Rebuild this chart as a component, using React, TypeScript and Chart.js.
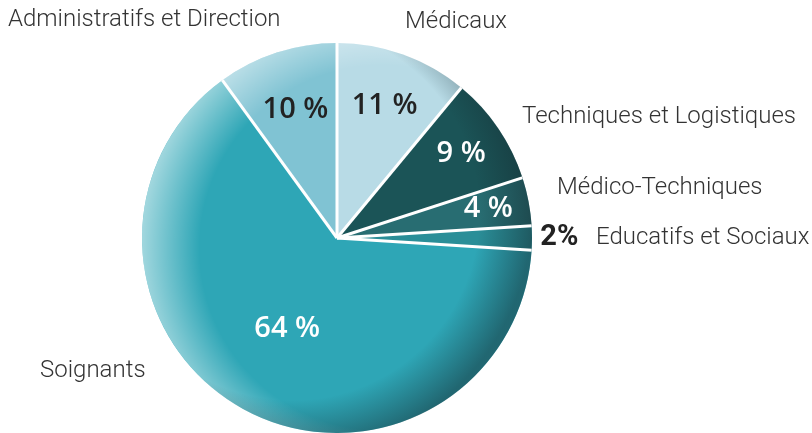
import React, { useEffect, useRef } from "react";
import { Chart, registerables } from "chart.js";

Chart.register(...registerables);

const categories = [
  "Médicaux",
  "Techniques et Logistiques",
  "Médico-Techniques",
  "Educatifs et Sociaux",
  "Soignants",
  "Administratifs et Direction",
];
const values = [11, 9, 4, 2, 64, 10];
const valueLabels = ["11 %", "9 %", "4 %", "2%", "64 %", "10 %"];
const sliceColors = ["#b8dbe6", "#1b5457", "#286d72", "#2a8e98", "#2ea6b6", "#80c3d3"];
const valueLabelColors = ["#222222", "#ffffff", "#ffffff", "#222222", "#ffffff", "#222222"];
// radial distance of value label, as fraction of radius
const valueLabelDist = [0.72, 0.77, 0.79, 1.14, 0.53, 0.69];

// category label anchor: [x, y, align]
const catLabelPos: [number, number, CanvasTextAlign][] = [
  [405, 22, "left"],
  [522, 117, "left"],
  [557, 188, "left"],
  [596, 238, "left"],
  [40, 371, "left"],
  [8, 20, "left"],
];

const shadingPlugin = {
  id: "shading",
  afterDatasetsDraw(chart: any) {
    const meta = chart.getDatasetMeta(0);
    const first = meta.data[0];
    if (!first) return;
    const { x, y, outerRadius } = first.getProps(["x", "y", "outerRadius"], true);
    const R = outerRadius;
    const ctx = chart.ctx;
    ctx.save();
    ctx.beginPath();
    ctx.arc(x, y, R, 0, Math.PI * 2);
    ctx.clip();
    const off = 45;
    const g1 = ctx.createRadialGradient(x + off, y + 10, 0, x + off, y + 10, R + off);
    g1.addColorStop(0, "rgba(255,255,255,0)");
    g1.addColorStop(0.76, "rgba(255,255,255,0)");
    g1.addColorStop(1, "rgba(255,255,255,0.55)");
    ctx.fillStyle = g1;
    ctx.fillRect(x - R, y - R, R * 2, R * 2);
    const g2 = ctx.createRadialGradient(x - off, y - 25, 0, x - off, y - 25, R + off);
    g2.addColorStop(0, "rgba(20,40,45,0)");
    g2.addColorStop(0.78, "rgba(20,40,45,0)");
    g2.addColorStop(1, "rgba(20,40,45,0.5)");
    ctx.fillStyle = g2;
    ctx.fillRect(x - R, y - R, R * 2, R * 2);
    // white radial separators
    ctx.strokeStyle = "#ffffff";
    ctx.lineWidth = 3;
    ctx.lineCap = "butt";
    meta.data.forEach((arc: any) => {
      const { startAngle } = arc.getProps(["startAngle"], true);
      ctx.beginPath();
      ctx.moveTo(x, y);
      ctx.lineTo(x + Math.cos(startAngle) * (R + 2), y + Math.sin(startAngle) * (R + 2));
      ctx.stroke();
    });
    ctx.restore();
  },
};

const labelsPlugin = {
  id: "sliceLabels",
  afterDraw(chart: any) {
    const ctx = chart.ctx;
    const meta = chart.getDatasetMeta(0);
    ctx.save();
    ctx.textBaseline = "middle";
    meta.data.forEach((arc: any, i: number) => {
      const { x, y, startAngle, endAngle, outerRadius } = arc.getProps(
        ["x", "y", "startAngle", "endAngle", "outerRadius"],
        true
      );
      const mid = (startAngle + endAngle) / 2;
      const r = outerRadius * valueLabelDist[i];
      const lx = x + Math.cos(mid) * r;
      const ly = y + Math.sin(mid) * r;
      ctx.textAlign = "center";
      ctx.fillStyle = valueLabelColors[i];
      ctx.font = i === 3 ? "bold 29px Roboto" : "600 29px 'Open Sans'";
      ctx.fillText(valueLabels[i], lx, ly);
    });
    ctx.font = "300 24px Roboto";
    ctx.fillStyle = "#333333";
    categories.forEach((c, i) => {
      const [px, py, al] = catLabelPos[i];
      ctx.textAlign = al;
      ctx.fillText(c, px, py);
    });
    ctx.restore();
  },
};

export default function App() {
  const ref = useRef<HTMLCanvasElement>(null);
  useEffect(() => {
    document.body.style.margin = "0";
    const chart = new Chart(ref.current!, {
      type: "pie",
      data: {
        labels: categories,
        datasets: [
          {
            data: values,
            backgroundColor: sliceColors,
            borderWidth: 0,
          },
        ],
      },
      options: {
        animation: false,
        responsive: true,
        maintainAspectRatio: false,
        layout: { padding: { top: 43, bottom: 0, left: 0, right: 138 } },
        plugins: { legend: { display: false }, tooltip: { enabled: false } },
      },
      plugins: [shadingPlugin, labelsPlugin],
    });
    return () => chart.destroy();
  }, []);
  return (
    <div style={{ width: 812, height: 433, position: "relative", background: "#fff" }}>
      <canvas ref={ref} />
    </div>
  );
}
